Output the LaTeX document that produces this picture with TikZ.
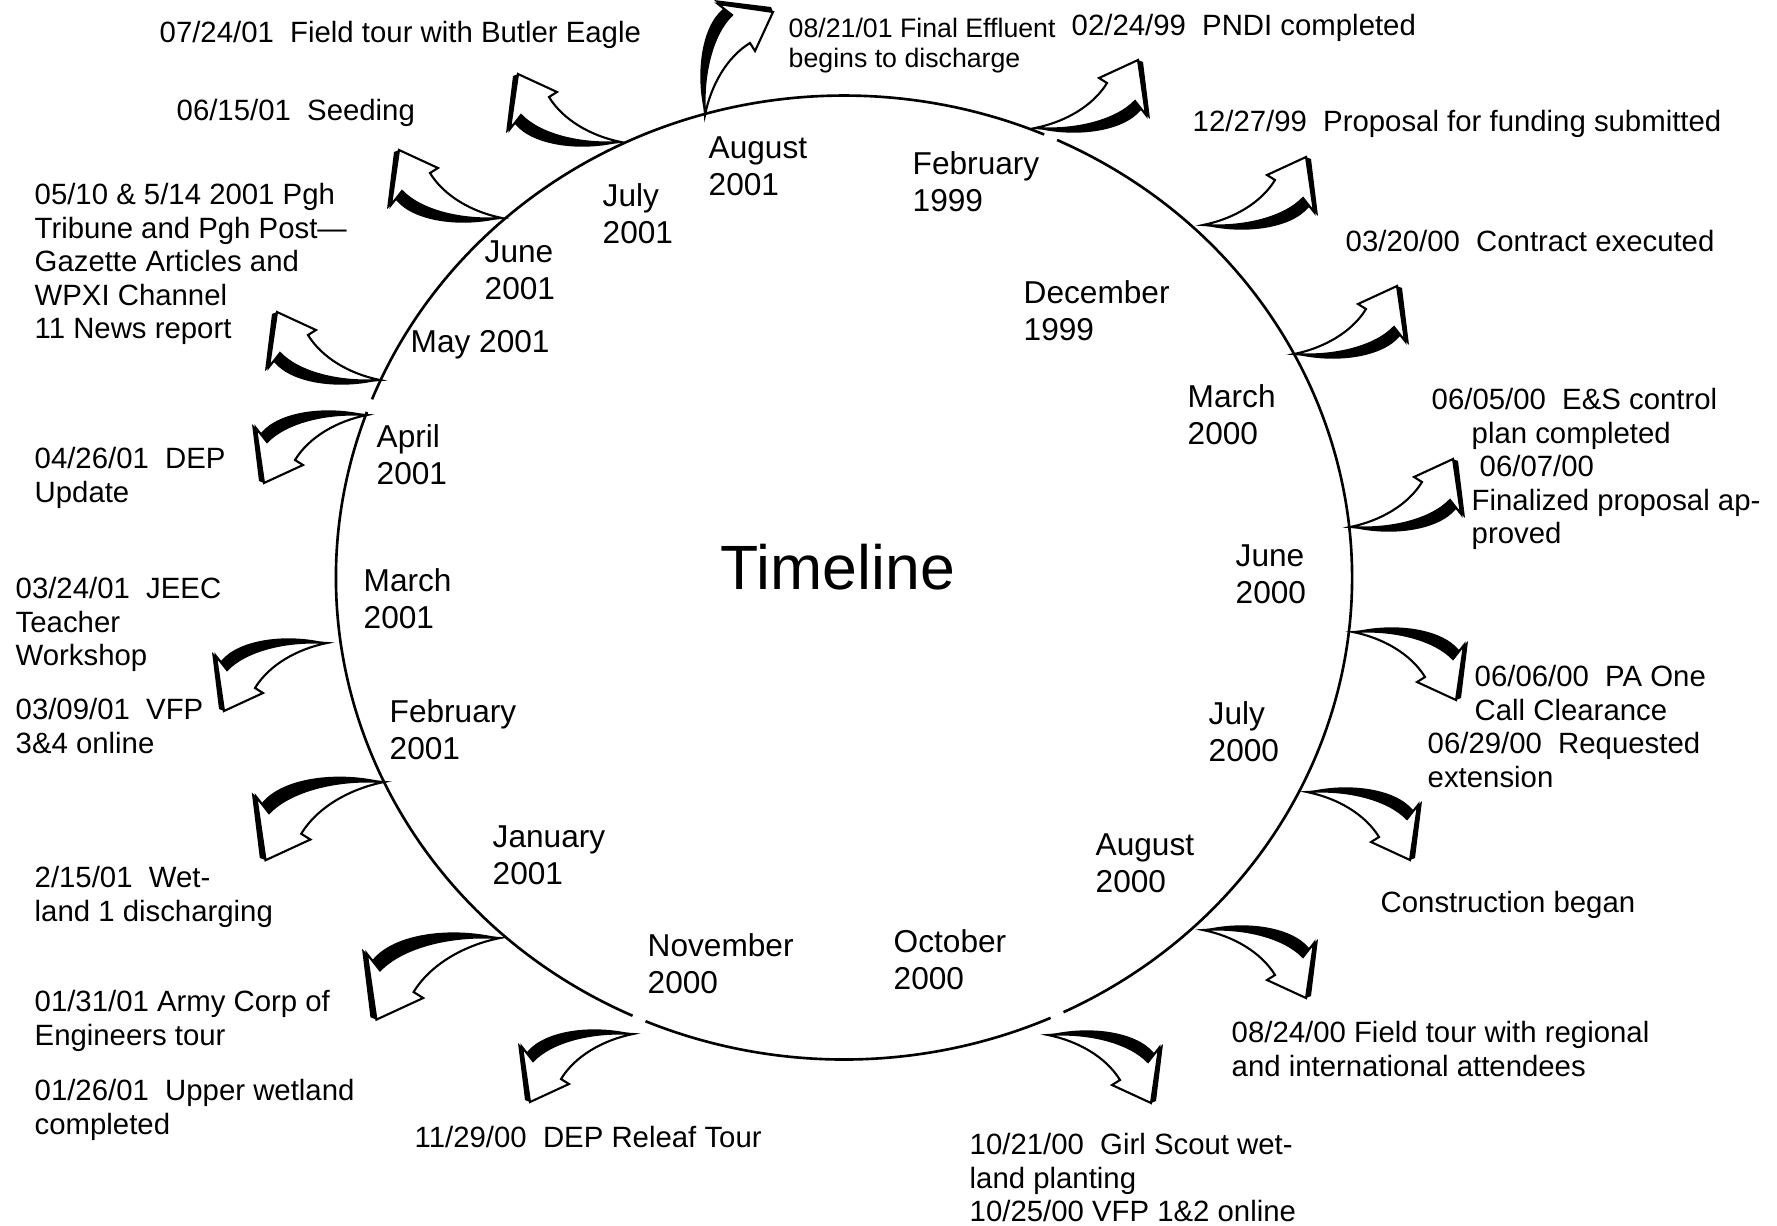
\documentclass[tikz,border=0pt]{standalone}
\usepackage{fontspec}
\setmainfont{Liberation Sans}

\begin{document}
\begin{tikzpicture}[x=0.1mm,y=-0.1mm,line join=round,
event/.style={anchor=north west,inner sep=0pt,align=left,font=\fontsize{8.35}{9.5}\selectfont},
note/.style={event,font=\fontsize{7.6}{8.6}\selectfont},
month/.style={anchor=north west,inner sep=0pt,align=left,font=\fontsize{9}{10.5}\selectfont},
rim/.style={line width=.75pt},
toNE/.style={},toSE/.style={yscale=-1},toNW/.style={xscale=-1},toSW/.style={rotate=180},toN/.style={rotate=90,yscale=-1},
bentarrow/.pic={
\fill (0,0) .. controls (40,10) and (88,4) .. (106,-18) -- (115,-9) -- (108,-66) -- (103,-68) -- (64,-50) -- (72,-45) .. controls (58,-22) and (30,-6) .. (0,0) -- cycle;
\filldraw[fill=white,line width=.6pt,line join=miter] (0,0) .. controls (30,-6) and (58,-22) .. (72,-45) -- (64,-50) -- (103,-68) -- (111,-13) -- (100,-27) .. controls (82,-8) and (42,3) .. (0,0) -- cycle;}]
\useasboundingbox (0,0) rectangle (1777,1225);
\coordinate (c) at (844,577.5);
\foreach \a/\b in {66/113,114.6/200.1,201.7/293.2,294.8/424.4}{\draw[rim] ([shift={(\a:508 and 482)}]c) arc[start angle=\a,end angle=\b,x radius=508,y radius=482];}
\node[font=\fontsize{17.8}{20}\selectfont] (title) at (838,567) {Timeline};
\foreach \n/\px/\py/\txt in {aug01/708/136/August\\2001,feb99/912/151/February\\1999,jul01/602/183/July\\2001,dec99/1023/280/December\\1999,jun01/484/240/June\\2001,may01/410/330/May 2001,mar00/1187/384/March\\2000,apr01/376/424/April\\2001,jun00/1235/544/June\\2000,mar01/363/568/March\\2001,feb01/389/699/February\\2001,jul00/1208/701/July\\2000,jan01/492/825/January\\2001,aug00/1095/833/August\\2000,nov00/647/933/November\\2000,oct00/893/929/October\\2000}{\node[month] (\n) at (\px,\py) {\txt};}
\node[event] (d072401) at (159,21) {07/24/01~~Field tour with Butler Eagle};
\node[event] (d061501) at (176,99) {06/15/01~~Seeding};
\node[event] (d051001) at (34,183) {05/10 \& 5/14 2001 Pgh\\Tribune and Pgh Post—\\Gazette Articles and\\WPXI Channel\\11 News report};
\node[event] (d042601) at (34,447) {04/26/01~~DEP\\Update};
\node[event] (d032401) at (15,577) {03/24/01~~JEEC\\Teacher\\Workshop};
\node[event] (d030901) at (15,698) {03/09/01~~VFP\\3\&4 online};
\node[event] (d021501) at (34,866) {2/15/01~~Wet-\\land 1 discharging};
\node[event] (d013101) at (34,990) {01/31/01 Army Corp of\\Engineers tour};
\node[event] (d012601) at (34,1079) {01/26/01~~Upper wetland\\completed};
\node[event] (d112900) at (414,1126) {11/29/00~~DEP Releaf Tour};
\node[event] (d102100) at (969,1133) {10/21/00~~Girl Scout wet-\\land planting\\10/25/00 VFP 1\&2 online};
\node[event] (d082400) at (1231,1021) {08/24/00 Field tour with regional\\and international attendees};
\node[event] (build) at (1380,891) {Construction began};
\node[event] (d062900) at (1427,732) {06/29/00~~Requested\\extension};
\node[event] (d060600) at (1474,665) {06/06/00~~PA One\\Call Clearance};
\node[event] (d060500) at (1471,388) {\hspace*{-4mm}06/05/00~~E\&S control\\plan completed\\\hspace*{.8mm}06/07/00\\Finalized proposal ap-\\proved};
\node[event] (d032000) at (1345,230) {03/20/00~~Contract executed};
\node[event] (d122799) at (1192,110) {12/27/99~~Proposal for funding submitted};
\node[event] (d022499) at (1071,14) {02/24/99~~PNDI completed};
\node[note] (d082101) at (788,17.5) {08/21/01 Final Effluent\\begins to discharge};
\foreach \px/\py/\ori/\sz in {705/115/toN/1,621/142/toNW/1,502/218/toNW/1,380/380/toNW/1,367/415/toSW/1,327/643/toSW/1,384/782/toSW/1.15,500/938/toSW/1.2,633/1034/toSW/1,1048/1035/toSE/1,1203/930/toSE/1,1307/792/toSE/1,1353/632/toSE/1,1350/527/toNE/1,1294/354/toNE/1,1203/225/toNE/1,1035/128/toNE/1}{\pic[\ori,scale=\sz] at (\px,\py) {bentarrow};}
\end{tikzpicture}
\end{document}
